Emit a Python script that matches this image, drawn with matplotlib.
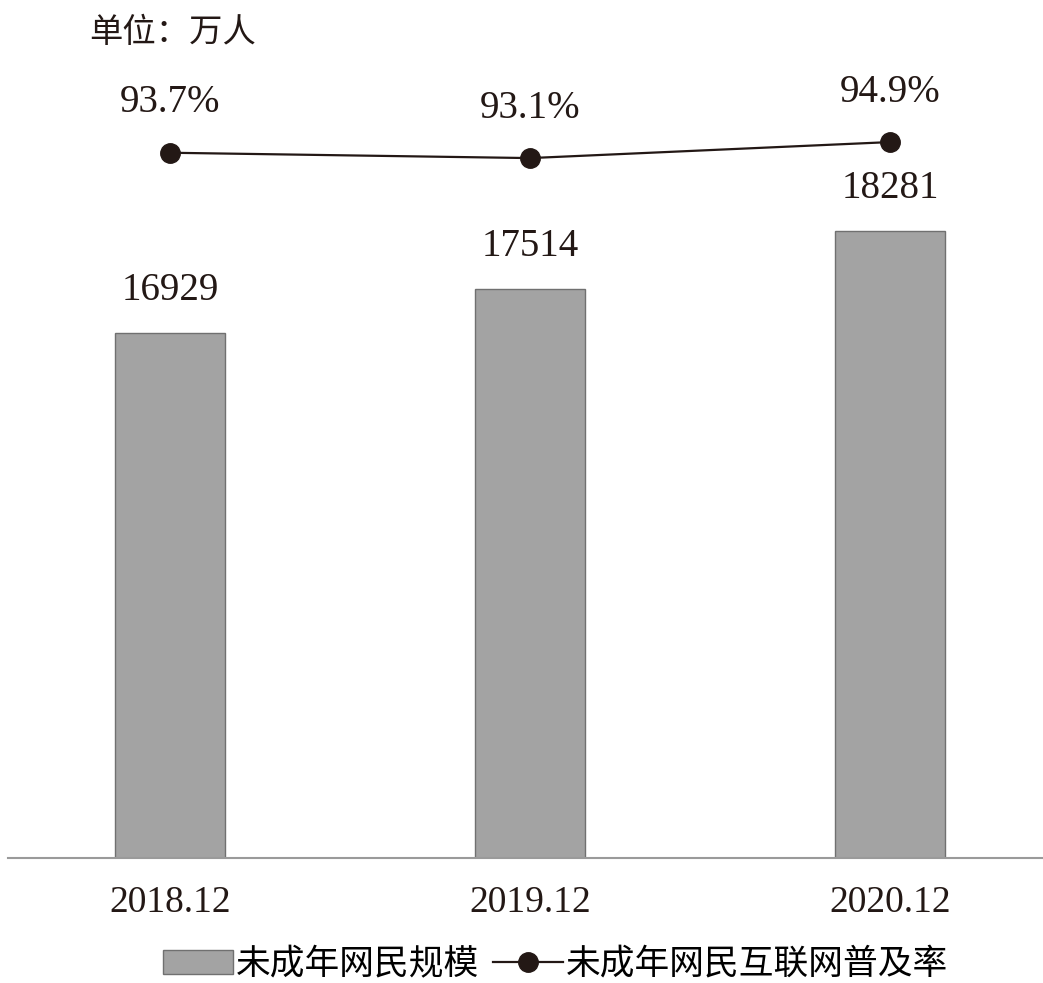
import matplotlib
matplotlib.use("Agg")
import matplotlib.pyplot as plt

plt.rcParams['font.family'] = ['Liberation Serif', 'Noto Sans CJK SC', 'DejaVu Sans']

# data
periods = ["2018.12", "2019.12", "2020.12"]
users = [16929, 17514, 18281]
rates = [93.7, 93.1, 94.9]
bar_name = "未成年网民规模"
line_name = "未成年网民互联网普及率"
unit_text = "单位：万人"

fig = plt.figure(figsize=(10.43, 9.83), dpi=100)
ax = fig.add_axes([0.008, 0.127, 0.992, 0.771])
x = list(range(len(periods)))

bars = ax.bar(x, users, width=0.305, bottom=0, color="#a3a3a3",
              edgecolor="#707070", linewidth=1.0, label=bar_name)
ax.set_ylim(10000, 20000)
ax.set_xlim(-0.45, 2.425)
for xi, v in zip(x, users):
    ax.annotate(str(v), (xi, v), xytext=(0, 17), textcoords="offset points",
                ha="center", va="bottom", fontsize=28, color="#231815")

ax.set_yticks([])
ax.set_xticks(x)
ax.set_xticklabels(periods, fontsize=27, color="#231815")
ax.tick_params(axis="x", length=0, pad=20)
for s in ["top", "right", "left"]:
    ax.spines[s].set_visible(False)
ax.spines["bottom"].set_color("#9a9a9a")
ax.spines["bottom"].set_linewidth(1.5)

ax2 = ax.twinx()
line, = ax2.plot(x, rates, color="#231815", linewidth=1.6, marker="o",
                 markersize=14, label=line_name)
ax2.set_ylim(14.4, 99.6)
ax2.set_yticks([])
for s in ["top", "right", "left", "bottom"]:
    ax2.spines[s].set_visible(False)
for xi, r in zip(x, rates):
    ax2.annotate("%.1f%%" % r, (xi, r), xytext=(0, 36), textcoords="offset points",
                 ha="center", va="center", fontsize=28, color="#231815")

fig.text(0.086, 0.966, unit_text, fontsize=24, color="#231815", ha="left", va="center")

fig.legend([bars, line], [bar_name, line_name], loc="center",
           bbox_to_anchor=(0.533, 0.018), ncol=2, frameon=False, fontsize=25,
           handlelength=2.0, handletextpad=0.1, columnspacing=0.4,
           borderaxespad=0)

fig.savefig("out.png", dpi=100)
